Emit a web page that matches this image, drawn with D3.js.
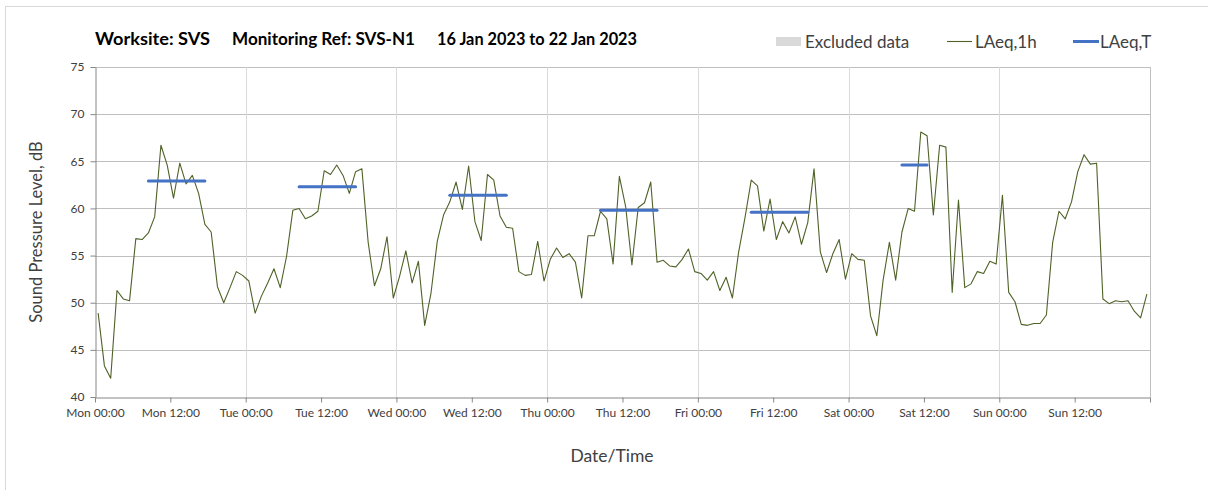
<!DOCTYPE html>
<html>
<head>
<meta charset="utf-8">
<script src="https://cdn.jsdelivr.net/npm/d3@7"></script>
<style>
  body { margin: 0; background: #fff; }
  text { font-family: Lato, "Noto Sans", sans-serif; }
</style>
</head>
<body>
<div id="app"></div>
<script>
// hourly LAeq,1h, Mon 16 Jan 00:00 .. Sun 22 Jan 23:00
const laeq1h = [
  48.9, 43.3, 42.0, 51.3, 50.4, 50.2, 56.8, 56.7, 57.4, 59.1,
  66.7, 64.6, 61.1, 64.8, 62.6, 63.5, 61.6, 58.3, 57.5, 51.7,
  50.0, 51.6, 53.3, 52.9, 52.3, 48.9, 50.7, 52.1, 53.6, 51.6,
  54.9, 59.8, 60.0, 58.9, 59.2, 59.7, 64.0, 63.6, 64.6, 63.5,
  61.6, 63.9, 64.2, 56.4, 51.8, 53.6, 57.0, 50.5, 52.8, 55.5,
  52.1, 54.4, 47.6, 51.0, 56.5, 59.3, 60.7, 62.8, 59.9, 64.5,
  58.6, 56.6, 63.6, 63.0, 59.2, 58.0, 57.9, 53.3, 52.9, 53.0,
  56.5, 52.3, 54.6, 55.8, 54.8, 55.2, 54.3, 50.5, 57.1, 57.1,
  59.7, 58.9, 54.1, 63.4, 60.2, 54.0, 60.1, 60.6, 62.8, 54.3,
  54.5, 53.9, 53.8, 54.6, 55.7, 53.3, 53.1, 52.4, 53.3, 51.3,
  52.7, 50.5, 55.4, 59.0, 63.0, 62.4, 57.6, 61.0, 56.7, 58.6,
  57.4, 59.1, 56.2, 58.5, 64.2, 55.4, 53.2, 55.2, 56.7, 52.5,
  55.2, 54.6, 54.5, 48.6, 46.5, 52.4, 56.4, 52.4, 57.5, 60.0,
  59.7, 68.1, 67.7, 59.3, 66.7, 66.5, 51.1, 60.9, 51.6, 52.0,
  53.3, 53.1, 54.4, 54.1, 61.4, 51.1, 50.1, 47.7, 47.6, 47.8,
  47.8, 48.7, 56.4, 59.7, 58.9, 60.7, 63.9, 65.7, 64.7, 64.8,
  50.4, 49.9, 50.2, 50.1, 50.2, 49.1, 48.4, 50.9
];

// LAeq,T periods (hour index from Mon 00:00)
const periodFrom = [8, 32, 56, 80, 104, 128];
const periodTo = [17, 41, 65, 89, 113, 132];
const laeqT = [62.9, 62.3, 61.4, 59.8, 59.6, 64.6];

const yTicks = [40, 45, 50, 55, 60, 65, 70, 75];
const titleParts = ['Worksite: SVS', 'Monitoring Ref: SVS-N1', '16 Jan 2023 to 22 Jan 2023'];
const legendLabels = ['Excluded data', 'LAeq,1h', 'LAeq,T'];

const width = 1208;
const height = 490;
const plotL = 95, plotR = 1150, plotT = 67, plotB = 397;

const svg = d3.select('#app').append('svg')
  .attr('width', width)
  .attr('height', height);

// chart area border
svg.append('rect')
  .attr('x', 5.5).attr('y', 6.5)
  .attr('width', 1210).attr('height', 490)
  .attr('fill', 'none')
  .attr('stroke', '#d9d9d9');

const start = new Date(2023, 0, 16);
const end = d3.timeDay.offset(start, 7);
const x = d3.scaleTime().domain([start, end]).range([plotL, plotR]);
const y = d3.scaleLinear().domain([40, 75]).range([plotB, plotT]);
const hourTime = i => new Date(start.getTime() + (i + 0.5) * 3600e3);

// horizontal grid
svg.append('g')
  .selectAll('line')
  .data(yTicks.slice(1))
  .enter().append('line')
  .attr('x1', plotL).attr('x2', plotR)
  .attr('y1', d => Math.round(y(d)) + 0.5).attr('y2', d => Math.round(y(d)) + 0.5)
  .attr('stroke', '#bfbfbf');

// vertical grid at midnight
const days = d3.timeDay.range(d3.timeDay.offset(start, 1), end);
svg.append('g')
  .selectAll('line')
  .data(days)
  .enter().append('line')
  .attr('x1', d => Math.round(x(d)) + 0.5).attr('x2', d => Math.round(x(d)) + 0.5)
  .attr('y1', plotT).attr('y2', plotB)
  .attr('stroke', '#d9d9d9');

// right border
svg.append('line')
  .attr('x1', plotR + 0.5).attr('x2', plotR + 0.5)
  .attr('y1', plotT).attr('y2', plotB)
  .attr('stroke', '#bfbfbf');

// y axis
const yAxis = svg.append('g')
  .attr('transform', `translate(${plotL + 0.5},0)`)
  .call(d3.axisLeft(y).tickValues(yTicks).tickSize(5).tickSizeOuter(0).tickPadding(6));
yAxis.select('.domain').attr('stroke', '#868686');
yAxis.selectAll('.tick line').attr('stroke', '#868686');
yAxis.selectAll('.tick text')
  .attr('fill', '#404040')
  .style('font-size', '12px')
  .style('font-family', 'Lato, sans-serif');

// x axis
const xAxis = svg.append('g')
  .attr('transform', `translate(0,${plotB + 0.5})`)
  .call(d3.axisBottom(x)
    .ticks(d3.timeHour.every(12))
    .tickSize(5)
    .tickSizeOuter(0)
    .tickPadding(6)
    .tickFormat(d => d < end ? d3.timeFormat('%a %H:%M')(d) : ''));
xAxis.select('.domain').attr('stroke', '#868686');
xAxis.selectAll('.tick line').attr('stroke', '#868686');
xAxis.selectAll('.tick text')
  .attr('fill', '#404040')
  .style('font-size', '12px')
  .style('font-family', 'Lato, sans-serif');

// LAeq,1h line
const line = d3.line()
  .x((d, i) => x(hourTime(i)))
  .y(d => y(d));
svg.append('path')
  .datum(laeq1h)
  .attr('d', line)
  .attr('fill', 'none')
  .attr('stroke', '#4f6228')
  .attr('stroke-width', 1.1)
  .attr('stroke-linejoin', 'round');

// LAeq,T segments
svg.append('g')
  .selectAll('line')
  .data(laeqT)
  .enter().append('line')
  .attr('x1', (d, i) => x(hourTime(periodFrom[i])))
  .attr('x2', (d, i) => x(hourTime(periodTo[i])))
  .attr('y1', d => y(d)).attr('y2', d => y(d))
  .attr('stroke', '#4472c4')
  .attr('stroke-width', 3)
  .attr('stroke-linecap', 'round');

// title
const titleX = [95, 232, 437];
const titleW = [115, 183, 200];
svg.append('g')
  .selectAll('text')
  .data(titleParts)
  .enter().append('text')
  .attr('x', (d, i) => titleX[i])
  .attr('y', 45)
  .attr('fill', '#000')
  .attr('textLength', (d, i) => titleW[i])
  .attr('lengthAdjust', 'spacingAndGlyphs')
  .style('font-size', '16.5px')
  .style('font-weight', 'bold')
  .text(d => d);

// legend
const lg = svg.append('g');
lg.append('rect')
  .attr('x', 776).attr('y', 37).attr('width', 25).attr('height', 9)
  .attr('fill', '#d9d9d9');
lg.append('line')
  .attr('x1', 947).attr('x2', 972).attr('y1', 41.5).attr('y2', 41.5)
  .attr('stroke', '#4f6228').attr('stroke-width', 1.1);
lg.append('line')
  .attr('x1', 1073).attr('x2', 1099).attr('y1', 41.5).attr('y2', 41.5)
  .attr('stroke', '#4472c4').attr('stroke-width', 3);
const legendX = [805, 975, 1100];
lg.selectAll('text')
  .data(legendLabels)
  .enter().append('text')
  .attr('x', (d, i) => legendX[i])
  .attr('y', 48)
  .attr('fill', '#404040')
  .style('font-size', '17px')
  .text(d => d);

// axis titles
svg.append('text')
  .attr('transform', `translate(42,${(plotT + plotB) / 2}) rotate(-90)`)
  .attr('text-anchor', 'middle')
  .attr('fill', '#404040')
  .style('font-size', '16.5px')
  .text('Sound Pressure Level, dB');

svg.append('text')
  .attr('x', 612).attr('y', 462)
  .attr('text-anchor', 'middle')
  .attr('fill', '#404040')
  .style('font-size', '17.5px')
  .text('Date/Time');
</script>
</body>
</html>
